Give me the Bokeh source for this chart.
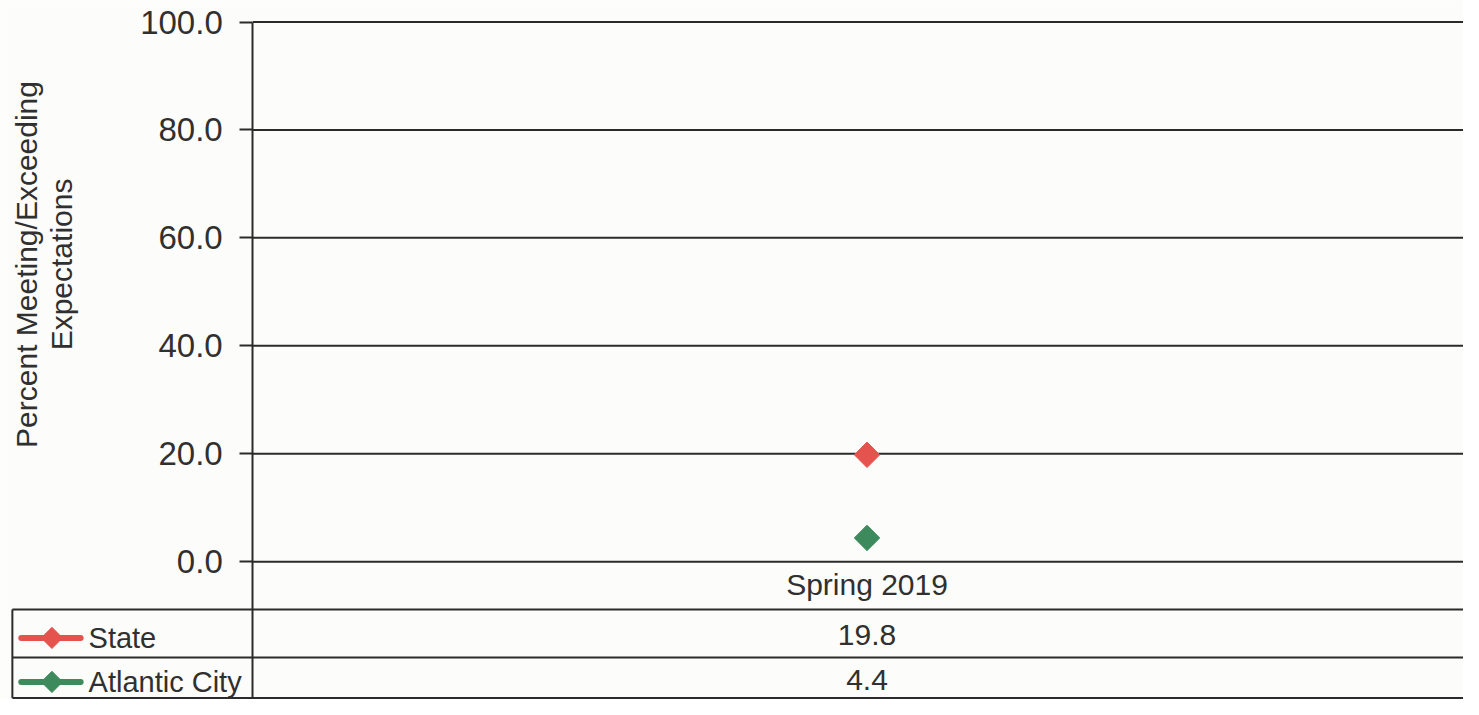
import math
from bokeh.plotting import figure
from bokeh.models import Range1d, FixedTicker
from bokeh.core.properties import value
from bokeh.embed import file_html
from bokeh.resources import INLINE

# ---------------- data ----------------
categories = ["Spring 2019"]
series_names = ["State", "Atlantic City"]
state_values = [19.8]
atlantic_city_values = [4.4]
y_ticks = [0, 20, 40, 60, 80, 100]
y_tick_labels = ["0.0", "20.0", "40.0", "60.0", "80.0", "100.0"]
y_axis_title = "Percent Meeting/Exceeding\nExpectations"

# ---------------- style ----------------
RED = "#E5534F"
GREEN = "#3D8B5C"
SERIES_COLORS = [RED, GREEN]
INK = "#2b2b2b"
TEXT = "#303030"
BG = "#FCFCFA"
FONT = value("Liberation Sans")

W, H = 1463, 699          # figure size (fits window minus 8px margins)
REF_W, REF_H = 1479, 715  # layout designed in reference pixel space


def xr(px):  # reference pixel -> x data units
    return (px - 255) / 1242.0


def yr(py):  # reference pixel -> y data units
    return (574 - py) / 5.52


x_start, x_end = xr(0), xr(REF_W)
y_start, y_end = yr(REF_H), yr(0)

p = figure(width=W, height=H,
           x_range=Range1d(x_start, x_end), y_range=Range1d(y_start, y_end),
           output_backend="svg", toolbar_location=None,
           x_axis_location=None, y_axis_location="left",
           min_border_left=0, min_border_right=0,
           min_border_top=0, min_border_bottom=0,
           background_fill_color=BG, border_fill_color=BG,
           outline_line_color=None)
p.xgrid.visible = False
p.ygrid.visible = False

ax = p.yaxis[0]
ax.fixed_location = 0
ax.ticker = FixedTicker(ticks=y_ticks, minor_ticks=[])
ax.major_label_overrides = {t: lab for t, lab in zip(y_ticks, y_tick_labels)}
ax.bounds = (y_start, 100)
ax.axis_line_color = INK
ax.axis_line_width = 2
ax.major_tick_line_color = INK
ax.major_tick_line_width = 2
ax.major_tick_out = 13
ax.major_tick_in = 0
ax.minor_tick_out = 0
ax.minor_tick_in = 0
ax.major_label_standoff = 17
ax.major_label_text_font = "Liberation Sans"
ax.major_label_text_font_size = "33px"
ax.major_label_text_color = TEXT

# horizontal gridlines from the axis to the right edge
p.segment(x0=[0] * len(y_ticks), x1=[x_end] * len(y_ticks),
          y0=y_ticks, y1=y_ticks, line_color=INK, line_width=2)

# data table grid
row_lines = [yr(623), yr(672), yr(713.5)]
left_x = xr(12)
p.segment(x0=[left_x] * len(row_lines), x1=[x_end] * len(row_lines),
          y0=row_lines, y1=row_lines, line_color=INK, line_width=2)
p.segment(x0=[left_x], x1=[left_x], y0=[row_lines[0]], y1=[row_lines[-1]],
          line_color=INK, line_width=2)

cat_x = [i + 0.5 for i in range(len(categories))]

# category labels
p.text(x=cat_x, y=[yr(597)] * len(categories), text=categories,
       text_font=FONT, text_font_size="30px", text_color=TEXT,
       text_align="center", text_baseline="middle")

# table values
row_y = [yr(649), yr(695)]
for vals, yy in zip([state_values, atlantic_city_values], row_y):
    p.text(x=cat_x, y=[yy] * len(vals), text=[f"{v:.1f}" for v in vals],
           text_font=FONT, text_font_size="30px", text_color=TEXT,
           text_align="center", text_baseline="middle")

# legend cells
leg_y = [yr(652), yr(697)]
p.segment(x0=[xr(21)] * 2, x1=[xr(81)] * 2, y0=leg_y, y1=leg_y,
          line_color=SERIES_COLORS, line_width=6, line_cap="round")
p.scatter(x=[xr(52)] * 2, y=leg_y, marker="square", angle=math.pi / 4,
          size=15, fill_color=SERIES_COLORS, line_color=SERIES_COLORS)
p.text(x=[xr(89)] * 2, y=leg_y, text=series_names,
       text_font=FONT, text_font_size="29px", text_color=TEXT,
       text_align="left", text_baseline="middle")

# data points
for vals, col in zip([state_values, atlantic_city_values], SERIES_COLORS):
    p.scatter(x=cat_x, y=vals, marker="square", angle=math.pi / 4,
              size=18, fill_color=col, line_color=col)

# y axis title
p.text(x=[xr(44)], y=[yr(270)], text=[y_axis_title], angle=math.pi / 2,
       text_font=FONT, text_font_size="30px", text_color=TEXT,
       text_align="center", text_baseline="middle", text_line_height=1.05)

open("out.html", "w").write(file_html(p, INLINE))
